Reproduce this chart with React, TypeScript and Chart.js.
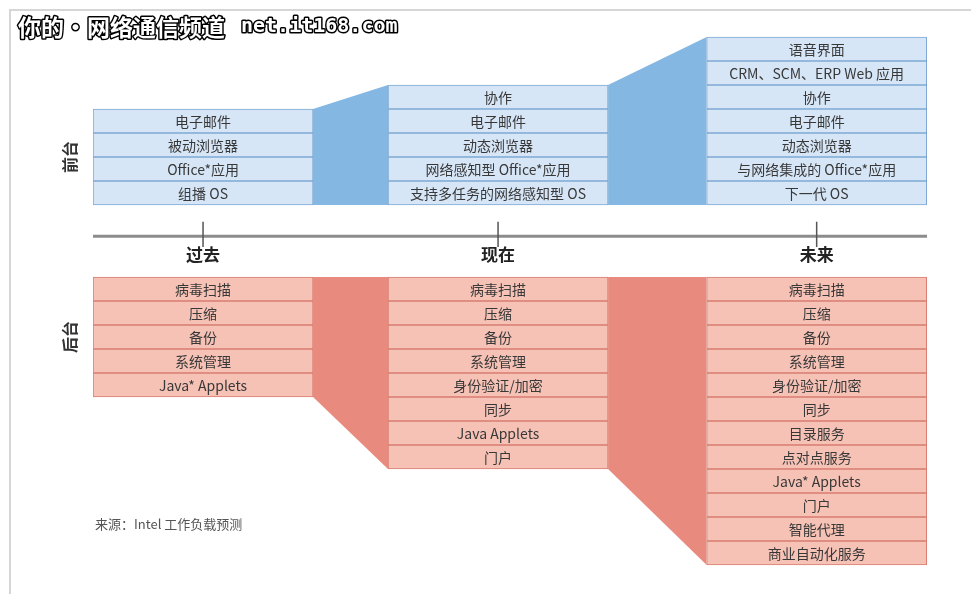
import React, { useEffect, useRef } from 'react';
import { Chart, registerables } from 'chart.js';

Chart.register(...registerables);

// ---------------- data ----------------
const periods = ['过去', '现在', '未来'];
const sectionTitles = ['前台', '后台'];

const frontPast = ['电子邮件', '被动浏览器', 'Office*应用', '组播 OS'];
const frontNow = ['协作', '电子邮件', '动态浏览器', '网络感知型 Office*应用', '支持多任务的网络感知型 OS'];
const frontFuture = ['语音界面', 'CRM、SCM、ERP Web 应用', '协作', '电子邮件', '动态浏览器', '与网络集成的 Office*应用', '下一代 OS'];

const backPast = ['病毒扫描', '压缩', '备份', '系统管理', 'Java* Applets'];
const backNow = ['病毒扫描', '压缩', '备份', '系统管理', '身份验证/加密', '同步', 'Java Applets', '门户'];
const backFuture = ['病毒扫描', '压缩', '备份', '系统管理', '身份验证/加密', '同步', '目录服务', '点对点服务', 'Java* Applets', '门户', '智能代理', '商业自动化服务'];

const titleCn = '你的·网络通信频道';
const titleUrl = 'net.it168.com';
const sourceNote = '来源：Intel 工作负载预测';

// ---------------- layout ----------------
const W = 971;
const H = 594;
const COLUMN_X = [0, 1, 2.08];
const X_MIN = -0.373;
const X_MAX = 2.454;
const Y_MIN = -16;
const Y_MAX = 8;
const PAD = { left: 93, right: 44, top: 13, bottom: 5 };
const PX_PER_X = (W - PAD.left - PAD.right) / (X_MAX - X_MIN);
const COL_WIDTH_PX = 220;
const COL_HALF = COL_WIDTH_PX / 2 / PX_PER_X;
const BACK_GAP = 3;
const AXIS_Y = -1.3;
const TICK_TOP = -0.7;
const TICK_BOTTOM = -1.75;
const PERIOD_LABEL_Y = -2.08;

const FONT = '"Noto Sans CJK SC", "Noto Sans", sans-serif';

const COLORS = {
  frontCell: '#d6e6f7',
  frontBorder: '#7fa8d4',
  frontLink: '#84b7e2',
  backCell: '#f6c2b6',
  backBorder: '#d97d72',
  backLink: '#e98a7e',
  axis: '#8c8c8c',
  tick: '#555555',
  text: '#383838',
};

const frontCols = [frontPast, frontNow, frontFuture];
const backCols = [backPast, backNow, backFuture];

function buildCells(cols: string[][], front: boolean) {
  const data: { x: number; y: [number, number] }[] = [];
  const labels: string[] = [];
  cols.forEach((list, c) => {
    const n = list.length;
    list.forEach((t, i) => {
      const y: [number, number] = front ? [n - 1 - i, n - i] : [-BACK_GAP - i - 1, -BACK_GAP - i];
      data.push({ x: COLUMN_X[c], y });
      labels.push(t);
    });
  });
  return { data, labels };
}

const diagramPlugin = {
  id: 'diagramText',
  beforeDraw(chart: any) {
    const ctx = chart.ctx;
    ctx.save();
    ctx.strokeStyle = '#d6d6d6';
    ctx.lineWidth = 2;
    ctx.beginPath();
    ctx.moveTo(10, H);
    ctx.lineTo(10, 10);
    ctx.lineTo(W, 10);
    ctx.stroke();
    ctx.restore();
  },
  afterDatasetsDraw(chart: any) {
    const ctx = chart.ctx;
    const xs = chart.scales.x;
    const ys = chart.scales.y;
    ctx.save();
    // cell labels
    chart.data.datasets.forEach((ds: any, di: number) => {
      if (!ds.cellLabels) return;
      const meta = chart.getDatasetMeta(di);
      ctx.font = `14px ${FONT}`;
      ctx.fillStyle = COLORS.text;
      ctx.textAlign = 'center';
      ctx.textBaseline = 'middle';
      meta.data.forEach((el: any, i: number) => {
        ctx.fillText(ds.cellLabels[i], el.x, (el.y + el.base) / 2 + 0.5);
      });
    });
    // period labels
    ctx.font = `bold 17px ${FONT}`;
    ctx.fillStyle = '#222';
    ctx.textAlign = 'center';
    ctx.textBaseline = 'middle';
    periods.forEach((p, i) => {
      ctx.fillText(p, xs.getPixelForValue(COLUMN_X[i]), ys.getPixelForValue(PERIOD_LABEL_Y));
    });
    // section titles (rotated)
    const sideX = xs.getPixelForValue(COLUMN_X[0] - COL_HALF) - 23;
    const frontMid = ys.getPixelForValue(frontPast.length / 2);
    const backMid = ys.getPixelForValue(-BACK_GAP - backPast.length / 2);
    ctx.font = `bold 16px ${FONT}`;
    ctx.fillStyle = '#333';
    [frontMid, backMid].forEach((cy, i) => {
      ctx.save();
      ctx.translate(sideX, cy);
      ctx.rotate(-Math.PI / 2);
      ctx.fillText(sectionTitles[i], 0, 0);
      ctx.restore();
    });
    // source note
    ctx.font = `13px ${FONT}`;
    ctx.fillStyle = '#555';
    ctx.textAlign = 'left';
    ctx.fillText(sourceNote, 95, 524);
    // watermark title
    ctx.lineJoin = 'round';
    ctx.lineWidth = 3;
    ctx.strokeStyle = '#000';
    ctx.fillStyle = '#fff';
    ctx.textBaseline = 'middle';
    ctx.font = `bold 23px ${FONT}`;
    ctx.strokeText(titleCn, 18, 27);
    ctx.fillText(titleCn, 18, 27);
    const w = ctx.measureText(titleCn).width;
    ctx.font = 'bold 20px "DejaVu Sans Mono", monospace';
    ctx.strokeText(titleUrl, 18 + w + 16, 27);
    ctx.fillText(titleUrl, 18 + w + 16, 27);
    ctx.restore();
  },
};

export default function App() {
  const ref = useRef<HTMLCanvasElement | null>(null);

  useEffect(() => {
    if (!ref.current) return;
    const front = buildCells(frontCols, true);
    const back = buildCells(backCols, false);

    const datasets: any[] = [];
    datasets.push({
      type: 'bar',
      data: front.data,
      cellLabels: front.labels,
      backgroundColor: COLORS.frontCell,
      borderColor: COLORS.frontBorder,
      borderWidth: 1,
      borderSkipped: false,
      grouped: false,
      barThickness: COL_WIDTH_PX,
      order: 0,
    });
    datasets.push({
      type: 'bar',
      data: back.data,
      cellLabels: back.labels,
      backgroundColor: COLORS.backCell,
      borderColor: COLORS.backBorder,
      borderWidth: 1,
      borderSkipped: false,
      grouped: false,
      barThickness: COL_WIDTH_PX,
      order: 0,
    });
    for (let c = 0; c < 2; c++) {
      const x0 = COLUMN_X[c] + COL_HALF;
      const x1 = COLUMN_X[c + 1] - COL_HALF;
      datasets.push({
        type: 'line',
        data: [
          { x: x0, y: frontCols[c].length },
          { x: x1, y: frontCols[c + 1].length },
        ],
        borderWidth: 0,
        borderColor: COLORS.frontLink,
        backgroundColor: COLORS.frontLink,
        pointRadius: 0,
        fill: { value: 0 },
        order: 2,
      });
      datasets.push({
        type: 'line',
        data: [
          { x: x0, y: -BACK_GAP - backCols[c].length },
          { x: x1, y: -BACK_GAP - backCols[c + 1].length },
        ],
        borderWidth: 0,
        borderColor: COLORS.backLink,
        backgroundColor: COLORS.backLink,
        pointRadius: 0,
        fill: { value: -BACK_GAP },
        order: 2,
      });
    }
    datasets.push({
      type: 'line',
      data: [
        { x: X_MIN, y: AXIS_Y },
        { x: X_MAX, y: AXIS_Y },
      ],
      borderColor: COLORS.axis,
      borderWidth: 3,
      pointRadius: 0,
      fill: false,
      order: 1,
    });
    periods.forEach((_, i) => {
      datasets.push({
        type: 'line',
        data: [
          { x: COLUMN_X[i], y: TICK_TOP },
          { x: COLUMN_X[i], y: TICK_BOTTOM },
        ],
        borderColor: COLORS.tick,
        borderWidth: 1.5,
        pointRadius: 0,
        fill: false,
        order: 0,
      });
    });

    const chart = new Chart(ref.current, {
      type: 'bar',
      data: { datasets },
      options: {
        animation: false,
        responsive: false,
        events: [],
        layout: { padding: PAD },
        plugins: { legend: { display: false }, tooltip: { enabled: false } },
        scales: {
          x: { type: 'linear', min: X_MIN, max: X_MAX, offset: false, display: false },
          y: { type: 'linear', min: Y_MIN, max: Y_MAX, display: false },
        },
      },
      plugins: [diagramPlugin],
    } as any);
    return () => chart.destroy();
  }, []);

  return (
    <div style={{ position: 'fixed', left: 0, top: 0, width: W, height: H, background: '#fff' }}>
      <canvas ref={ref} width={W} height={H} style={{ display: 'block' }} />
    </div>
  );
}
